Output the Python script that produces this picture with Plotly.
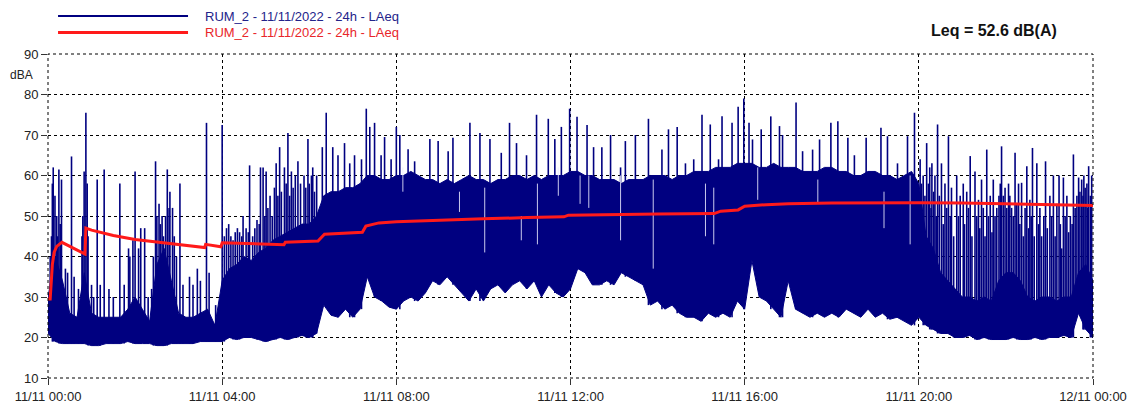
import plotly.graph_objects as go

# 10-minute bins, 00:00 -> 24:00 (hours)
band_low = [21, 19, 18.5, 18.5, 18.5, 18.5, 18, 18, 18.5, 18.5, 18.5, 19, 18.5, 18.5, 18.5, 18, 18, 18.5, 18.5, 18.5, 18.5, 19, 19, 19, 19,
            20, 19.5, 20, 20, 19.5, 19, 19.5, 20, 19.5, 20, 20.5, 20, 21, 28, 25.5, 25, 27, 25, 27, 35, 30, 29, 27.5, 27,
            29, 30, 29, 31, 34, 33, 35, 33, 31, 29, 32, 29, 32, 33, 31, 33, 34, 32, 34, 30, 33, 31, 30, 32,
            37, 36, 33, 33, 34, 33, 36, 35, 34, 33, 28, 29, 27, 28, 26, 25, 25, 24, 26, 25, 26, 25, 29, 27,
            39, 30, 29, 27, 25, 34, 27, 26, 25, 26, 25, 26, 25, 27, 26, 25, 27, 25, 26, 24.5, 25, 24, 23, 25,
            23, 22, 21, 21, 20, 20, 20.5, 19.5, 20, 19.5, 19.5, 19.5, 20, 19.5, 19.5, 20, 19.5, 20, 20, 20.5, 20, 26, 22, 20]
band_high = [30, 40, 34, 26, 25, 36, 26, 25, 25, 25, 25, 27, 30, 27, 24, 38, 42, 34, 26, 25, 25, 26, 27, 23, 34,
             37, 38, 40, 39, 41, 42, 44, 45, 46, 47, 48, 48, 50, 55, 56, 56, 57, 57, 58, 60, 60, 59, 59, 60,
             60, 61, 60, 59, 59, 58, 59, 58, 59, 60, 59, 59, 58, 59, 59, 60, 60, 59, 60, 59, 60, 60, 60, 61,
             61, 60, 60, 59, 59, 59, 58, 59, 59, 59, 60, 60, 60, 59, 60, 60, 61, 61, 61, 62, 62, 62, 63, 63,
             63, 62, 62, 63, 62, 62, 62, 61, 61, 61, 62, 62, 61, 61, 60, 60, 61, 61, 60, 60, 59, 60, 61, 58,
             45, 42, 36, 34, 32, 30, 30, 29, 30, 29, 34, 36, 36, 34, 30, 29, 30, 30, 29, 30, 30, 36, 38, 34]
band_t = [k / 6 for k in range(len(band_low))]

# single peaks (hour, dBA)
spike_t = [0.05, 0.08, 0.10, 0.12, 0.16, 0.2, 0.22, 0.25, 0.28, 0.31, 0.4, 0.45, 0.54, 0.6, 0.7, 0.78, 0.8, 0.83,
           0.87, 0.9, 0.92, 1.0, 1.05, 1.13, 1.2, 1.29, 1.4, 1.5, 1.65, 1.75, 1.85, 1.88, 1.95, 2.0, 2.08, 2.13,
           2.22, 2.3, 2.38, 2.42, 2.47, 2.5, 2.55, 2.58, 2.62, 2.65, 2.7, 2.74, 2.78, 2.8, 2.86, 2.9, 2.95, 3.03,
           3.1, 3.25, 3.33, 3.43, 3.5, 3.64, 3.7, 3.85, 4.0,
           4.05, 4.1, 4.15, 4.2, 4.25, 4.3, 4.35, 4.4, 4.45, 4.48, 4.55, 4.6, 4.63, 4.7, 4.75, 4.8, 4.85, 4.88,
           4.94, 4.98, 5.01, 5.05, 5.1, 5.15, 5.2, 5.24, 5.28, 5.32, 5.36, 5.43, 5.47, 5.51, 5.55, 5.59, 5.63,
           5.68, 5.74, 5.8, 5.88, 5.92, 5.97, 6.0, 6.05, 6.08, 6.12, 6.17,
           6.3, 6.39, 6.54, 6.66, 6.81, 6.93, 7.04, 7.2, 7.31, 7.39, 7.5, 7.65, 7.73, 7.88,
           8.0, 8.08, 8.27, 8.42, 8.77, 8.96, 9.19, 9.3, 9.69, 9.92, 10.15, 10.41, 10.6, 10.76, 10.99, 11.22,
           11.49, 11.64, 11.79, 11.98,
           12.15, 12.38, 12.53, 12.72, 12.92, 13.15, 13.26, 13.49, 13.79, 14.1, 14.25, 14.45, 14.64, 14.83,
           15.02, 15.21, 15.4, 15.48, 15.71, 15.85, 15.98,
           16.1, 16.18, 16.38, 16.6, 16.8, 16.87, 17.18, 17.33, 17.56, 17.72, 17.98, 18.14, 18.37, 18.52,
           18.79, 19.13, 19.28, 19.51, 19.74, 19.9,
           20.03, 20.06, 20.1, 20.14, 20.18, 20.22, 20.25, 20.28, 20.3, 20.34, 20.37, 20.4, 20.43, 20.47, 20.52,
           20.56, 20.6, 20.64, 20.68, 20.72, 20.75, 20.8, 20.87, 20.91, 20.95, 21.02, 21.05, 21.1, 21.14,
           21.18, 21.22, 21.29, 21.33, 21.37, 21.4, 21.44, 21.48, 21.52, 21.56, 21.6, 21.64, 21.68, 21.71,
           21.75, 21.79, 21.84, 21.87, 21.9, 21.94, 21.98, 22.02, 22.06, 22.09, 22.13, 22.17, 22.21, 22.25,
           22.29, 22.32, 22.36, 22.4, 22.44, 22.48, 22.52, 22.55, 22.58, 22.61, 22.65, 22.71, 22.75, 22.78,
           22.82, 22.87, 22.91, 22.95, 23.01, 23.05, 23.09, 23.13, 23.17, 23.22, 23.25, 23.28, 23.32, 23.36,
           23.4, 23.44, 23.48, 23.52, 23.55, 23.59, 23.63, 23.67, 23.7, 23.74, 23.77, 23.79, 23.82, 23.86,
           23.88, 23.9, 23.94, 23.97]
spike_v = [40, 45, 58, 62, 55, 50, 45, 61.5, 48, 59, 37, 36, 64.7, 35, 32, 45, 50, 61,
           75.5, 58, 45, 33, 30, 59, 33, 61.5, 32, 30, 58, 33, 42, 40, 44, 61, 42, 47,
           47, 30, 32, 40, 63.5, 50, 53, 48, 50, 45, 50, 61.5, 52, 56, 52, 45, 40, 58,
           33, 35, 33, 37, 34, 73, 36, 28, 72.5,
           45, 47, 48, 45, 44, 46, 47, 46, 45, 50, 47, 46, 62.5, 45, 47, 49, 48, 62,
           62, 50, 61, 52, 55, 50, 57, 63, 55, 67, 56, 62, 58, 70.5, 55, 61, 57,
           60, 63.5, 58, 60, 57, 69, 58, 60, 62, 56, 60,
           67, 75.5, 67, 65, 68, 63, 65, 64, 76.5, 72, 73, 65, 69.5, 64,
           72, 70, 66.5, 63.5, 69, 68.5, 66, 69.3, 73, 70.5, 69, 65.6, 73, 68, 65, 75,
           74, 69, 72, 76.5,
           74.5, 72.5, 67, 67, 70, 62, 68.5, 70, 74, 66.4, 71.4, 72, 63, 64,
           75, 72.6, 64, 74.6, 73, 77, 79,
           73, 68.9, 71.4, 74.6, 72.2, 70, 78, 66, 66.4, 68.9, 73, 73.4, 69.3, 65,
           69.3, 71.8, 69.7, 63, 69.7, 75.5,
           64, 58, 60, 55, 68, 58, 62, 52, 63, 56, 60, 50, 72.6, 55, 63,
           48, 58, 52, 69.7, 50, 57, 45, 60, 50, 55, 58, 48, 56, 52,
           64.8, 45, 61, 50, 54, 47, 59, 52, 45, 66.4, 50, 55, 46, 59,
           50, 52, 55, 58, 67.2, 55, 57, 52, 58, 55, 52, 50, 65.6, 53,
           58, 48, 58.2, 45, 52, 62.3, 47, 54, 50, 66.8, 45, 63, 48, 52,
           45, 50, 63.5, 47, 55, 50, 60, 45, 53, 60, 48, 42, 59.5, 50,
           55, 46, 50, 48, 65.2, 52, 55, 59.5, 56, 59, 55, 60, 57, 58,
           52, 62.3, 55, 60]

# light streaks inside the dense band (hour, top, bottom)
gap_t = [8.15, 9.45, 10.03, 10.87, 11.24, 11.72, 12.22, 12.42, 13.15, 13.9, 15.1, 15.29, 16.3, 17.68, 19.2, 19.8]
gap_top = [62, 56, 57, 50, 58, 62, 60, 60, 60, 59, 58, 57, 62, 59, 56, 60]
gap_bot = [56, 51, 41, 44, 43, 55, 53, 52, 44, 37, 45, 43, 54, 53, 47, 43]

# running Leq
red_t = [0, 0.05, 0.1, 0.14, 0.2, 0.32, 0.85, 0.87, 1.0, 1.5, 2.0, 2.5, 3.0, 3.6, 3.62, 3.97, 4.0, 4.5, 5.0,
         5.42, 5.45, 6.2, 6.35, 7.22, 7.3, 7.6, 8.0, 9.0, 10.0, 11.0, 11.85, 11.95, 13.0, 14.0, 15.3, 15.45,
         15.85, 16.0, 16.5, 17.0, 18.0, 19.0, 20.0, 21.0, 22.0, 23.0, 24.0]
red_v = [29.5, 29.5, 38, 41, 42.5, 43.5, 40.6, 47, 46.5, 45.2, 44.2, 43.6, 43.0, 42.2, 43.0, 42.4, 43.4, 43.2, 43.0,
         42.9, 43.5, 43.8, 45.5, 46.0, 47.5, 48.3, 48.6, 49.0, 49.3, 49.6, 49.8, 50.2, 50.4, 50.5, 50.6, 51.2,
         51.5, 52.4, 52.8, 53.0, 53.2, 53.3, 53.3, 53.2, 53.0, 52.8, 52.6]

tick_hours = [0, 4, 8, 12, 16, 20, 24]
tick_labels = ['11/11 00:00', '11/11 04:00', '11/11 08:00', '11/11 12:00',
               '11/11 16:00', '11/11 20:00', '12/11 00:00']

NAVY = '#000080'
RED = '#ff1a1a'

sx, sy = [], []
for t, v in zip(spike_t, spike_v):
    base = band_low[min(round(t * 6), len(band_low) - 1)]
    sx += [t, t, None]
    sy += [base, v, None]

gx, gy = [], []
for t, a, b in zip(gap_t, gap_top, gap_bot):
    gx += [t, t, None]
    gy += [b, a, None]

fig = go.Figure()
fig.add_trace(go.Scatter(x=band_t, y=band_low, mode='lines', line=dict(color=NAVY, width=1),
                         showlegend=False, hoverinfo='skip'))
fig.add_trace(go.Scatter(x=band_t, y=band_high, mode='lines', line=dict(color=NAVY, width=1),
                         fill='tonexty', fillcolor=NAVY, showlegend=False, hoverinfo='skip'))
fig.add_trace(go.Scatter(x=sx, y=sy, mode='lines', line=dict(color=NAVY, width=1.6),
                         showlegend=False, hoverinfo='skip'))
fig.add_trace(go.Scatter(x=gx, y=gy, mode='lines', line=dict(color='rgba(235,235,255,0.85)', width=1),
                         showlegend=False, hoverinfo='skip'))
fig.add_trace(go.Scatter(x=red_t, y=red_v, mode='lines', line=dict(color=RED, width=3),
                         showlegend=False))

font = 'Arial, Liberation Sans, sans-serif'
axis_common = dict(showgrid=True, gridcolor='black', griddash='dot', gridwidth=1,
                   ticks='outside', tickcolor='#333', zeroline=False, showline=False,
                   automargin=False, tickfont=dict(family=font, size=13, color='#222'))

fig.update_xaxes(range=[0, 24], tickvals=tick_hours, ticktext=tick_labels, ticklen=6, **axis_common)
fig.update_yaxes(range=[10, 90], dtick=10, ticklen=6, **axis_common)

# frame and legend samples
fig.add_shape(type='rect', xref='paper', yref='paper', x0=0, x1=1, y0=0, y1=1,
              line=dict(color='black', width=1, dash='dot'))
fig.add_shape(type='line', xref='paper', yref='paper', x0=0.0096, x1=0.134, y0=1.117, y1=1.117,
              line=dict(color=NAVY, width=2))
fig.add_shape(type='line', xref='paper', yref='paper', x0=0.0096, x1=0.134, y0=1.066, y1=1.066,
              line=dict(color=RED, width=3))
fig.add_annotation(xref='paper', yref='paper', x=0.148, y=1.117, xanchor='left', yanchor='middle',
                   text='RUM_2 - 11/11/2022 - 24h - LAeq', showarrow=False,
                   font=dict(family=font, size=13, color='#23238a'))
fig.add_annotation(xref='paper', yref='paper', x=0.148, y=1.066, xanchor='left', yanchor='middle',
                   text='RUM_2 - 11/11/2022 - 24h - LAeq', showarrow=False,
                   font=dict(family=font, size=13, color='#e8262a'))
fig.add_annotation(xref='paper', yref='paper', x=0.905, y=1.074, xanchor='center', yanchor='middle',
                   text='<b>Leq = 52.6 dB(A)</b>', showarrow=False,
                   font=dict(family=font, size=16, color='#111'))
fig.add_annotation(xref='paper', yref='paper', x=-0.025, y=0.935, xanchor='center', yanchor='middle',
                   text='dBA', showarrow=False, font=dict(family=font, size=12, color='#222'))

# the page body adds an 8 px offset, so the figure is sized to fit the window
fig.update_layout(width=1124, height=402, margin=dict(l=40, r=39, t=46, b=32),
                  plot_bgcolor='white', paper_bgcolor='white', showlegend=False)

fig.write_html("out.html")
